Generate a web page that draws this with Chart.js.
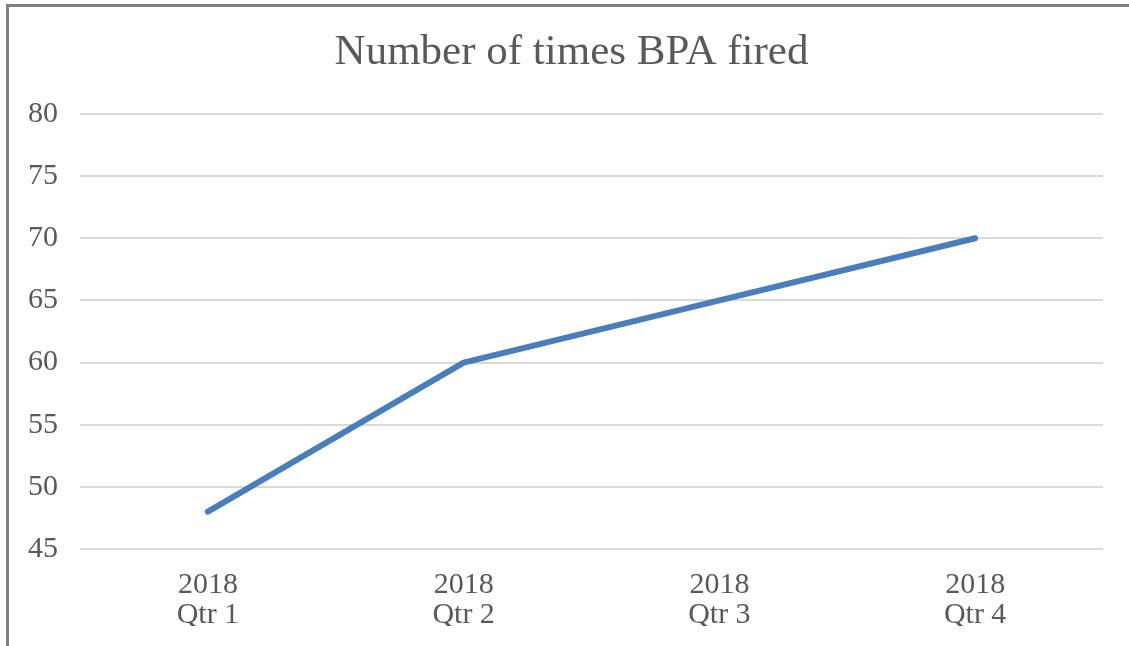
<!DOCTYPE html>
<html>
<head>
<meta charset="utf-8">
<script src="https://cdn.jsdelivr.net/npm/chart.js@4"></script>
<style>
  html, body { margin: 0; padding: 0; background: #fff; }
  #wrap { position: relative; width: 1129px; height: 646px; overflow: hidden; }
  #frame { position: absolute; left: 6px; top: 4px; width: 1140px; height: 700px;
           border-top: 3px solid #7f7f7f; border-left: 3px solid #7f7f7f; box-sizing: border-box; }
  canvas { position: absolute; left: 0; top: 0; }
</style>
</head>
<body>
<div id="wrap">
  <div id="frame"></div>
  <canvas id="c" width="1129" height="646"></canvas>
</div>
<script>
const chartTitle = "Number of times BPA fired";
const categories = [["2018", "Qtr 1"], ["2018", "Qtr 2"], ["2018", "Qtr 3"], ["2018", "Qtr 4"]];
const values = [48, 60, 65, 70];
const yMin = 45, yMax = 80, yStep = 5;

const serif = "'Liberation Serif', 'DejaVu Serif', serif";
const textColor = "#595959";

// Title centred over the whole framed chart (not just the plot area)
const framedTitle = {
  id: 'framedTitle',
  afterDraw(chart) {
    const ctx = chart.ctx;
    ctx.save();
    ctx.font = "normal 43px " + serif;
    ctx.fillStyle = textColor;
    ctx.textAlign = 'center';
    ctx.textBaseline = 'middle';
    ctx.fillText(chartTitle, (8 + chart.width) / 2 + 3, 53);
    ctx.restore();
  }
};

new Chart(document.getElementById('c'), {
  type: 'line',
  data: {
    labels: categories,
    datasets: [{
      data: values,
      borderColor: '#4a7ebb',
      borderWidth: 6,
      borderCapStyle: 'round',
      borderJoinStyle: 'round',
      pointRadius: 0,
      tension: 0,
      fill: false
    }]
  },
  plugins: [framedTitle],
  options: {
    responsive: false,
    animation: false,
    layout: { padding: { left: 0, right: 26, top: 114, bottom: 20 } },
    plugins: {
      legend: { display: false },
      tooltip: { enabled: false },
      title: { display: false }
    },
    scales: {
      x: {
        offset: true,
        afterFit: (s) => { s.height = 77; },
        grid: { display: false, drawTicks: false },
        border: { display: false },
        ticks: {
          color: textColor,
          padding: 22,
          maxRotation: 0,
          font: { family: serif, size: 30, lineHeight: 0.97 }
        }
      },
      y: {
        min: yMin, max: yMax,
        afterFit: (s) => { s.width = 80; },
        grid: { color: '#d9d9d9', lineWidth: 2, drawTicks: false },
        border: { display: false },
        ticks: {
          stepSize: yStep,
          color: textColor,
          padding: 22,
          font: { family: serif, size: 30 }
        }
      }
    }
  }
});
</script>
</body>
</html>
